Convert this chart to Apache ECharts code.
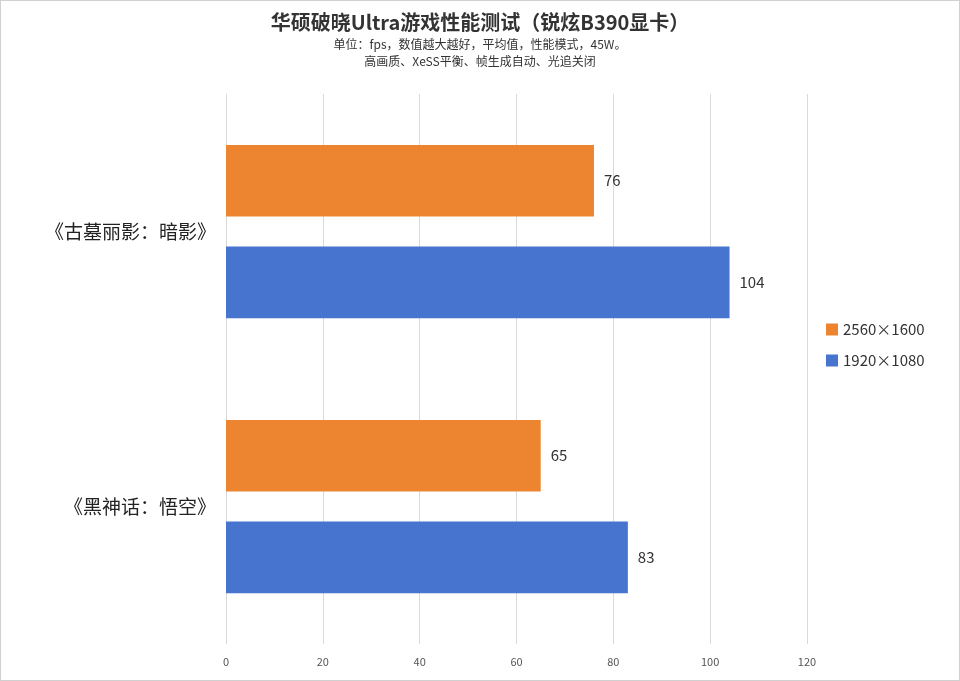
<!DOCTYPE html>
<html><head><meta charset="utf-8">
<script src="https://cdn.jsdelivr.net/npm/echarts@6/dist/echarts.min.js"></script>
<style>body{margin:0}#c{width:958px;height:679px;border:1px solid #d0d0d0}</style>
</head><body><div id="c"></div>
<script>
const games = ['《古墓丽影：暗影》', '《黑神话：悟空》'];
const res1600 = [76, 65];
const res1080 = [104, 83];
const font = '"Noto Sans CJK SC", "Noto Sans", sans-serif';

const chart = echarts.init(document.getElementById('c'));
chart.setOption({
  animation: false,
  textStyle: { fontFamily: font },
  title: {
    text: '华硕破晓Ultra游戏性能测试（锐炫B390显卡）',
    subtext: '单位：fps，数值越大越好，平均值，性能模式，45W。\n高画质、XeSS平衡、帧生成自动、光追关闭',
    left: 'center', top: 6, itemGap: 4,
    textStyle: { fontSize: 20, fontWeight: 'bold', color: '#333', fontFamily: font },
    subtextStyle: { fontSize: 12, color: '#333', lineHeight: 17, fontFamily: font }
  },
  legend: {
    orient: 'vertical', left: 820, top: 316, itemGap: 16,
    itemWidth: 12, itemHeight: 12, icon: 'rect',
    textStyle: { fontSize: 15, color: '#333' },
    data: ['2560×1600', '1920×1080']
  },
  grid: { left: 225, right: 152, top: 93, bottom: 36, containLabel: false },
  xAxis: {
    type: 'value', min: 0, max: 120, interval: 20,
    axisLabel: { fontSize: 11, color: '#555', margin: 12 },
    splitLine: { lineStyle: { color: '#d9d9d9' } }
  },
  yAxis: {
    type: 'category', inverse: true, data: games,
    axisLine: { show: false }, axisTick: { show: false },
    axisLabel: { fontSize: 19, color: '#222', margin: 10 }
  },
  series: [
    { name: '2560×1600', type: 'bar', data: res1600, itemStyle: { color: '#ed8530' },
      barGap: '42%', barCategoryGap: '37%',
      label: { show: true, position: 'right', fontSize: 15, color: '#333', distance: 10 } },
    { name: '1920×1080', type: 'bar', data: res1080, itemStyle: { color: '#4774cf' },
      label: { show: true, position: 'right', fontSize: 15, color: '#333', distance: 10 } }
  ]
});
</script></body></html>
